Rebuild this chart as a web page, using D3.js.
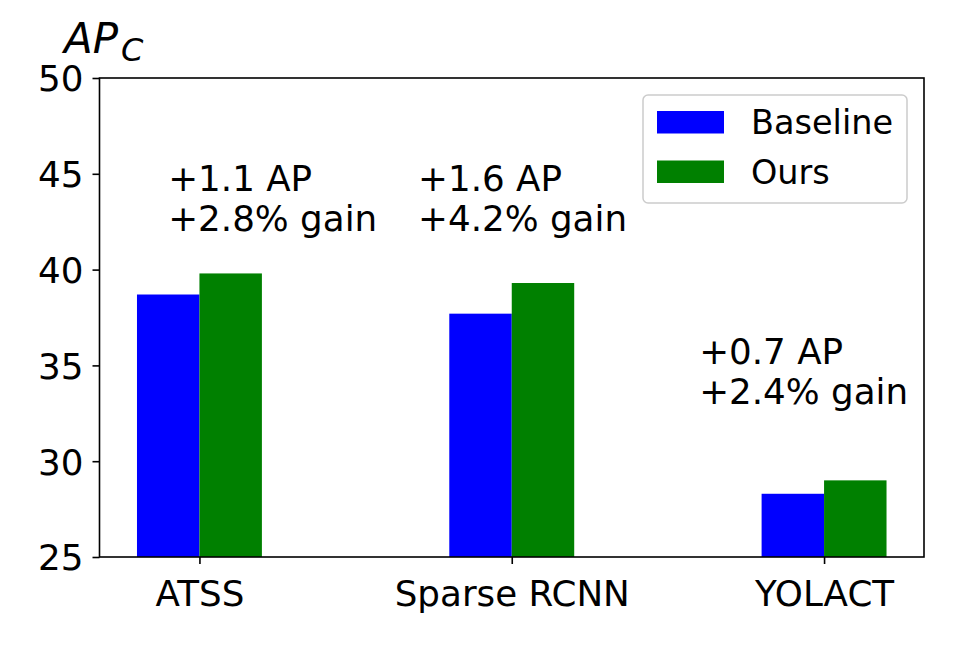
<!DOCTYPE html>
<html>
<head>
<meta charset="utf-8">
<script src="https://cdn.jsdelivr.net/npm/d3@7"></script>
<style>
  body { margin: 0; background: #fff; }
  svg { display: block; font-family: "DejaVu Sans", sans-serif; }
</style>
</head>
<body>
<svg id="chart" width="969" height="646"></svg>
<script>
const categories = ["ATSS", "Sparse RCNN", "YOLACT"];
const baselineValues = [38.7, 37.7, 28.3];
const oursValues = [39.8, 39.3, 29.0];
const seriesNames = ["Baseline", "Ours"];
const yTicks = [25, 30, 35, 40, 45, 50];
const annotationLine1 = ["+1.1 AP", "+1.6 AP", "+0.7 AP"];
const annotationLine2 = ["+2.8% gain", "+4.2% gain", "+2.4% gain"];
const annotationXOffset = [-0.1, -0.3, -0.4];
const annotationY = [42, 42, 33];

(function () {
const colors = {Baseline: "#0000ff", Ours: "#008000"};
const fontSize = 35.7;
const barWidth = 0.2;

const svg = d3.select("#chart");
const mLeft = 99.5, mRight = 924, mTop = 78, mBottom = 557;

const x = d3.scaleLinear().domain([-0.32, 2.32]).range([mLeft, mRight]);
const y = d3.scaleLinear().domain([25, 50]).range([mBottom, mTop]);

const g = svg.append("g");

// bars
const data = categories.map((c, i) => ({c, i, b: baselineValues[i], o: oursValues[i]}));
g.selectAll("rect.base").data(data).join("rect")
  .attr("class", "base")
  .attr("x", d => x(d.i - barWidth))
  .attr("width", d => x(d.i) - x(d.i - barWidth))
  .attr("y", d => y(d.b))
  .attr("height", d => y(25) - y(d.b))
  .attr("fill", colors.Baseline);
g.selectAll("rect.ours").data(data).join("rect")
  .attr("class", "ours")
  .attr("x", d => x(d.i))
  .attr("width", d => x(d.i + barWidth) - x(d.i))
  .attr("y", d => y(d.o))
  .attr("height", d => y(25) - y(d.o))
  .attr("fill", colors.Ours);

// annotations
data.forEach((d, i) => {
  const ax = x(d.i + annotationXOffset[i]);
  const t = g.append("text")
    .attr("x", ax)
    .attr("y", y(annotationY[i]))
    .attr("font-size", fontSize)
    .attr("fill", "#000");
  t.append("tspan").attr("x", ax).attr("dy", -40).text(annotationLine1[i]);
  t.append("tspan").attr("x", ax).attr("dy", 40).text(annotationLine2[i]);
});

// axes
const yAxis = d3.axisLeft(y).tickValues(yTicks).tickSize(7).tickPadding(9).tickFormat(d3.format("d"));
const yg = svg.append("g").attr("transform", `translate(${mLeft},0)`).call(yAxis);
const xAxis = d3.axisBottom(x).tickValues(d3.range(categories.length)).tickSize(7).tickPadding(9)
  .tickFormat(i => categories[i]);
const xg = svg.append("g").attr("transform", `translate(0,${mBottom})`).call(xAxis);
[yg, xg].forEach(a => {
  a.select(".domain").remove();
  a.selectAll(".tick line").attr("stroke", "#000").attr("stroke-width", 1.6);
  a.selectAll(".tick text").attr("font-size", fontSize).attr("fill", "#000")
    .attr("font-family", "DejaVu Sans");
});
yg.selectAll(".tick text").attr("dy", "0.36em");
xg.selectAll(".tick text").attr("dy", "0.92em");

// frame
svg.append("rect").attr("x", mLeft).attr("y", mTop)
  .attr("width", mRight - mLeft).attr("height", mBottom - mTop)
  .attr("fill", "none").attr("stroke", "#000").attr("stroke-width", 1.6);

// y title AP_C
const title = svg.append("text").attr("x", 64).attr("y", 53)
  .attr("font-size", 42).attr("font-style", "italic").attr("fill", "#000");
title.append("tspan").text("AP");
title.append("tspan").attr("font-size", 32).attr("dx", 3).attr("dy", 8).text("C");

// legend
const lg = svg.append("g");
lg.append("rect").attr("x", 643).attr("y", 95).attr("width", 264).attr("height", 108)
  .attr("rx", 5).attr("fill", "#fff").attr("fill-opacity", 0.8)
  .attr("stroke", "#cccccc").attr("stroke-width", 1.5);
seriesNames.forEach((s, i) => {
  lg.append("rect").attr("x", 657).attr("y", 111 + i * 49.5).attr("width", 67).attr("height", 22.5)
    .attr("fill", colors[s]);
  lg.append("text").attr("x", 751).attr("y", 134 + i * 49.5)
    .attr("font-size", 33.5).attr("fill", "#000").text(s);
});
})();
</script>
</body>
</html>
